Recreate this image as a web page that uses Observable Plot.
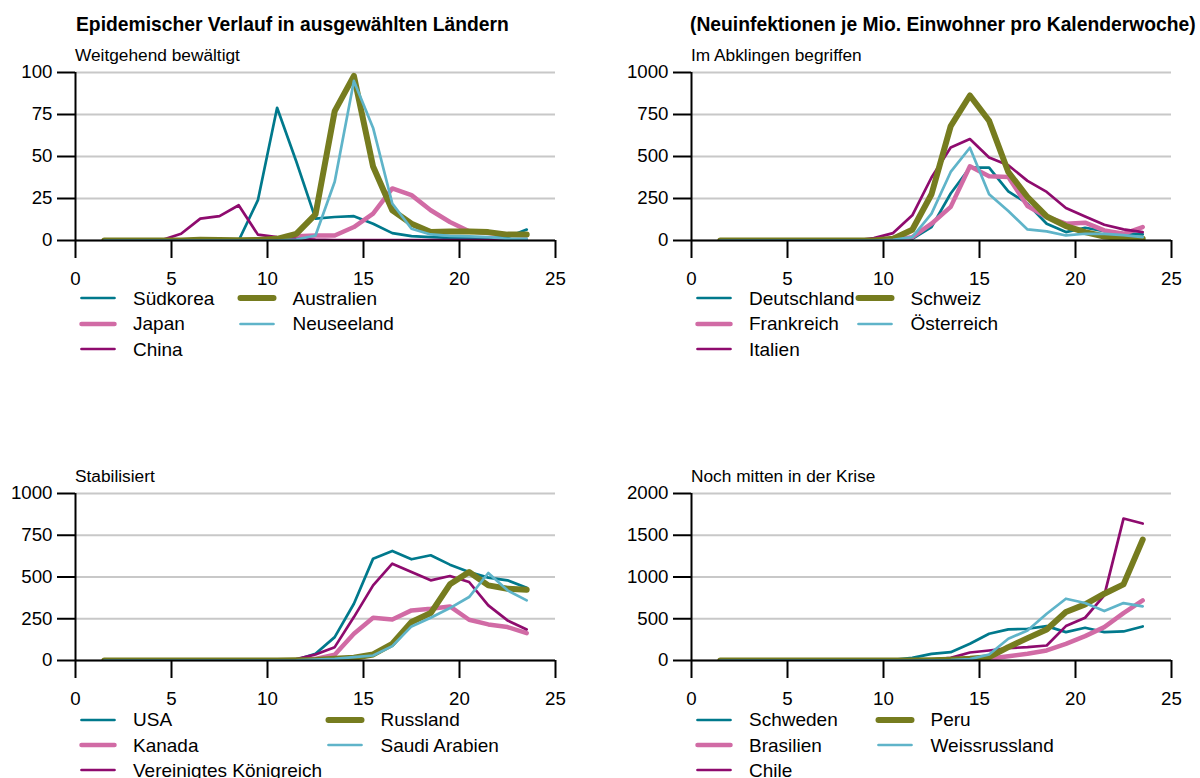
<!DOCTYPE html>
<html><head><meta charset="utf-8">
<script src="https://cdn.jsdelivr.net/npm/d3@7"></script>
<script src="https://cdn.jsdelivr.net/npm/@observablehq/plot@0.6"></script>
<style>
body{margin:0;background:#fff;font-family:"Liberation Sans",Arial,sans-serif;}
#root{position:relative;width:1200px;height:778px;overflow:hidden;background:#fff;}
.abs{position:absolute;white-space:nowrap;line-height:1;color:#000;}
.title{font-weight:bold;font-size:19.3px;}
.sub{font-size:17.3px;}
.leg{font-size:19px;}
.panel{position:absolute;}
</style></head><body><div id="root"></div>
<script>
// ---------- data ----------
const weeks = [1.5,2.5,3.5,4.5,5.5,6.5,7.5,8.5,9.5,10.5,11.5,12.5,13.5,14.5,15.5,16.5,17.5,18.5,19.5,20.5,21.5,22.5,23.5];
const xTicks = [0,5,10,15,20,25];

const mainTitle = "Epidemischer Verlauf in ausgewählten Ländern";
const unitTitle = "(Neuinfektionen je Mio. Einwohner pro Kalenderwoche)";

// Panel 1: Weitgehend bewältigt
const p1Title = "Weitgehend bewältigt";
const p1Names = ["Südkorea","Japan","China","Australien","Neuseeland"];
const p1Suedkorea  = [0,0,0,0,0,0,0,0,24,79,47,13,14,14.5,10,4.4,2.6,2,1.6,1.4,1.4,2,6.5];
const p1Japan      = [0,0,0,0,0,0,0,0,0.5,1,2.5,3,3,8,16,31,27,18,11,5.5,4.5,3.5,3];
const p1China      = [0,0,0,0.3,4,13,14.5,21,3.5,2,1,0.5,0.3,0.2,0.2,0.2,0.2,0.2,0.2,0.2,0.2,0.3,0.3];
const p1Australien = [0,0,0,0,0,0.5,0.3,0.2,0.3,1,4,15.5,77,98,44,18,10,5,5.3,5.3,5,3.5,3.5];
const p1Neuseeland = [0,0,0,0,0,0,0,0,0,0,0.5,3,35,95,67,22,7,3.6,2.8,2.5,2,1,1];
const p1YTicks = [0,25,50,75,100];

// Panel 2: Im Abklingen begriffen
const p2Title = "Im Abklingen begriffen";
const p2Names = ["Deutschland","Frankreich","Italien","Schweiz","Österreich"];
const p2Deutschland = [0,0,0,0,0,0,0,0,0,3,10,80,280,434,434,293,219,100,50,76,56,44,36];
const p2Frankreich  = [0,0,0,0,0,0,0,0,0,4,20,100,200,442,382,378,205,140,100,106,60,40,80];
const p2Italien     = [0,0,0,0,0,0,0,0,14,44,150,375,554,604,494,448,355,289,193,143,94,66,50];
const p2Schweiz     = [0,0,0,0,0,0,0,0,0,10,64,275,681,863,713,408,259,143,86,50,24,14,10];
const p2Oesterreich = [0,0,0,0,0,0,0,0,0,4,20,160,408,552,275,175,66,54,30,40,40,32,20];
const p2YTicks = [0,250,500,750,1000];

// Panel 3: Stabilisiert
const p3Title = "Stabilisiert";
const p3Names = ["USA","Kanada","Vereinigtes Königreich","Russland","Saudi Arabien"];
const p3USA      = [0,0,0,0,0,0,0,0,0,0,4,40,140,340,610,656,606,630,574,530,496,480,436];
const p3Kanada   = [0,0,0,0,0,0,0,0,0,0,2,10,34,160,256,246,300,310,324,244,216,200,164];
const p3UK       = [0,0,0,0,0,0,0,0,0,0,8,36,80,260,450,580,530,480,506,470,330,240,186];
const p3Russland = [0,0,0,0,0,0,0,0,0,0,1,3,10,16,36,100,230,284,456,530,450,430,424];
const p3Saudi    = [0,0,0,0,0,0,0,0,0,0,1,5,10,20,30,86,204,256,314,380,524,420,360];
const p3YTicks = [0,250,500,750,1000];

// Panel 4: Noch mitten in der Krise
const p4Title = "Noch mitten in der Krise";
const p4Names = ["Schweden","Brasilien","Chile","Peru","Weissrussland"];
const p4Schweden = [0,0,0,0,0,0,0,0,0,8,32,80,100,200,320,372,380,412,340,392,340,348,408];
const p4Brasilien = [0,0,0,0,0,0,0,0,0,0,0,0,2,8,20,52,80,120,200,292,400,568,720];
const p4Chile    = [0,0,0,0,0,0,0,0,0,0,4,12,32,96,120,148,160,180,412,512,780,1700,1640];
const p4Peru     = [0,0,0,0,0,0,0,0,0,0,0,4,10,20,40,160,268,372,580,672,800,912,1448];
const p4Weiss    = [0,0,0,0,0,0,0,0,0,0,0,2,5,16,72,260,360,560,740,688,592,688,648];
const p4YTicks = [0,500,1000,1500,2000];

// ---------- styles ----------
const colors = ["#00798c","#d16ba5","#8e0b6e","#767c1f","#5fb4c9"];
const widths = [2.7,4.5,2.7,6,2.7];

// ---------- layout ----------
const panels = [
  {title:p1Title, names:p1Names, series:[p1Suedkorea,p1Japan,p1China,p1Australien,p1Neuseeland], yTicks:p1YTicks, left:0,   top:40,  plotH:168, col2:164, legTop:298.3},
  {title:p2Title, names:p2Names, series:[p2Deutschland,p2Frankreich,p2Italien,p2Schweiz,p2Oesterreich], yTicks:p2YTicks, left:616, top:40,  plotH:168, col2:166, legTop:298.3},
  {title:p3Title, names:p3Names, series:[p3USA,p3Kanada,p3UK,p3Russland,p3Saudi], yTicks:p3YTicks, left:0,   top:461, plotH:167, col2:252, legTop:719.5},
  {title:p4Title, names:p4Names, series:[p4Schweden,p4Brasilien,p4Chile,p4Peru,p4Weiss], yTicks:p4YTicks, left:616, top:461, plotH:167, col2:186, legTop:719.5}
];

const root = document.getElementById("root");
function addText(cls, text, x, y){
  const d = document.createElement("div");
  d.className = "abs " + cls; d.textContent = text;
  d.style.left = x + "px"; d.style.top = y + "px";
  root.appendChild(d); return d;
}
addText("title", mainTitle, 76, 14.7);
addText("title", unitTitle, 690, 14.7);

const ML = 75, MT = 32, MB = 60, W = 580, MR = 25;
panels.forEach(p => {
  const yMax = p.yTicks[p.yTicks.length-1];
  const lineMarks = p.series.map((vals, i) => {
    const rows = weeks.map((w, j) => ({week: w, value: vals[j]}));
    return Plot.line(rows, {x:"week", y:"value", stroke: colors[i], strokeWidth: widths[i],
      strokeLinecap:"round", strokeLinejoin:"round", clip:true});
  });
  const chart = Plot.plot({
    width: W, height: MT + p.plotH + MB,
    marginLeft: ML, marginRight: MR, marginTop: MT, marginBottom: MB,
    style: {fontFamily:'"Liberation Sans",Arial,sans-serif', fontSize:"18.7px", color:"#000", background:"transparent", overflow:"visible"},
    x: {domain:[0,25]},
    y: {domain:[0,yMax]},
    marks: [
      Plot.gridY(p.yTicks, {stroke:"#c8c8c8", strokeOpacity:1, strokeWidth:2}),
      ...lineMarks,
      Plot.axisY(p.yTicks, {tickSize:18, tickPadding:5, strokeWidth:2, tickFormat:d => String(d), label:null}),
      Plot.axisX(xTicks, {tickSize:18, tickPadding:13, strokeWidth:2, tickFormat:d => String(d), label:null}),
      Plot.ruleX([0], {strokeWidth:2}),
      Plot.ruleY([0], {strokeWidth:2})
    ]
  });
  chart.classList.add("panel");
  chart.style.left = p.left + "px";
  chart.style.top = p.top + "px";
  root.appendChild(chart);

  const plotLeft = p.left + ML;
  addText("sub", p.title, plotLeft, p.top + MT - 24.7);

  // legend
  p.names.forEach((name, i) => {
    const col = i < 3 ? 0 : 1;
    const row = i < 3 ? i : i - 3;
    const sx = plotLeft + (col === 0 ? 4.5 : p.col2);
    const cy = p.legTop + row * 25.3;
    const svg = d3.create("svg").attr("width", 46).attr("height", 12)
      .style("position","absolute").style("left", (sx - 5) + "px").style("top", (cy - 6) + "px")
      .style("overflow","visible");
    svg.append("line").attr("x1", 5 + 1.5).attr("x2", 5 + 34.5).attr("y1", 6).attr("y2", 6)
      .attr("stroke", colors[i]).attr("stroke-width", widths[i]).attr("stroke-linecap","round");
    root.appendChild(svg.node());
    addText("leg", name, sx + 53.5, cy - 9.2);
  });
});
</script></body></html>
